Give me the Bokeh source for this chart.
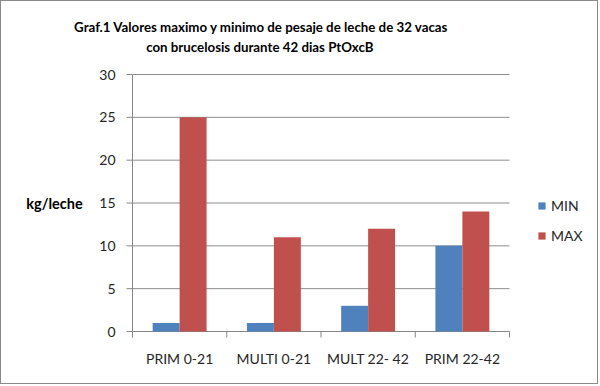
from bokeh.plotting import figure
from bokeh.models import ColumnDataSource, Range1d, Legend, LegendItem, Label
from bokeh.core.properties import value
from bokeh.embed import file_html
from bokeh.resources import INLINE

categories = ["PRIM 0-21", "MULTI 0-21", "MULT 22- 42", "PRIM 22-42"]
min_values = [1, 1, 3, 10]
max_values = [25, 11, 12, 14]
y_ticks = [0, 5, 10, 15, 20, 25, 30]
series_names = ["MIN", "MAX"]
title_lines = ["Graf.1 Valores maximo y minimo de pesaje de leche de 32 vacas",
               "con brucelosis  durante 42 dias PtOxcB"]
y_label = "kg/leche"

BLUE = "#4F81BD"
RED = "#C0504D"
AXIS = "#868686"
GRID = "#8c8c8c"
TXT = "#262626"
FONT = "Lato"

n = len(categories)
y_max = y_ticks[-1]
bw = 0.286
centers = [i + 0.5 for i in range(n)]

# canvas geometry (pixels)
W, H = 598, 384
LEFT = 131            # pixel column of the value axis
ZERO_Y = 330          # pixel row of the category axis
PLOT_W, PLOT_H = 377, 257


def px_to_x(px):
    return (px - LEFT) * n / PLOT_W


def px_to_y(py):
    return (ZERO_Y - py) * y_max / PLOT_H


src = ColumnDataSource(dict(cat=categories,
                            xmin=[c - bw / 2 for c in centers],
                            xmax=[c + bw / 2 for c in centers],
                            mn=min_values, mx=max_values))

p = figure(width=W, height=H, output_backend="svg", toolbar_location=None,
           x_range=Range1d(px_to_x(0), px_to_x(W)), y_range=Range1d(px_to_y(H), px_to_y(0)),
           x_axis_location=None, y_axis_location=None)
p.min_border = 0
p.min_border_left = 0
p.min_border_right = 0
p.min_border_top = 0
p.min_border_bottom = 0
p.outline_line_color = None
p.background_fill_color = "white"
p.border_fill_color = "white"
p.styles = {"border": "1px solid #888888"}
p.grid.grid_line_color = None

# horizontal gridlines across the category span
grid_y = [t for t in y_ticks if t > 0]
p.segment(x0=[0] * len(grid_y), x1=[n] * len(grid_y), y0=grid_y, y1=grid_y,
          line_color=GRID, line_width=1)

# value axis: line, tick marks, labels
p.segment(x0=[0], x1=[0], y0=[0], y1=[y_max], line_color=AXIS, line_width=1)
p.segment(x0=[px_to_x(LEFT - 6)] * len(y_ticks), x1=[0] * len(y_ticks),
          y0=y_ticks, y1=y_ticks, line_color=AXIS, line_width=1)
p.text(x=[px_to_x(LEFT - 17)] * len(y_ticks), y=y_ticks, text=[str(t) for t in y_ticks],
       text_align="right", text_baseline="middle", text_font=value(FONT),
       text_font_size="14px", text_color=TXT)

# category axis: line, boundary tick marks, labels
p.segment(x0=[0], x1=[n], y0=[0], y1=[0], line_color=AXIS, line_width=1)
bounds = list(range(n + 1))
p.segment(x0=bounds, x1=bounds, y0=[0] * len(bounds), y1=[px_to_y(ZERO_Y + 6)] * len(bounds),
          line_color=AXIS, line_width=1)
p.text(x=centers, y=[px_to_y(357)] * n, text=categories,
       text_align="center", text_baseline="middle", text_font=value(FONT),
       text_font_size="14px", text_color=TXT)

# bars
r1 = p.vbar(x="xmin", top="mn", width=bw, source=src, fill_color=BLUE, line_color=None)
r2 = p.vbar(x="xmax", top="mx", width=bw, source=src, fill_color=RED, line_color=None)

legend = Legend(items=[LegendItem(label=series_names[0], renderers=[r1]),
                       LegendItem(label=series_names[1], renderers=[r2])],
                location=(536, H - 243), padding=0, margin=0, spacing=13,
                glyph_width=9, glyph_height=9, label_standoff=5,
                label_text_font=FONT, label_text_font_size="14px", label_text_color=TXT,
                border_line_color=None, background_fill_alpha=0)
p.add_layout(legend, "center")

# value-axis title
p.add_layout(Label(x=px_to_x(53), y=y_max / 2, text=y_label,
                   text_align="center", text_baseline="middle",
                   text_font=FONT, text_font_style="bold",
                   text_font_size="14.5px", text_color="black"))

# two-line chart title
for line, py in zip(title_lines, [25, 45]):
    p.add_layout(Label(x=px_to_x(260), y=px_to_y(py), text=line,
                       text_align="center", text_baseline="middle",
                       text_font=FONT, text_font_style="bold",
                       text_font_size="13.3px", text_color="black"))

open("out.html", "w").write(file_html(p, INLINE))
